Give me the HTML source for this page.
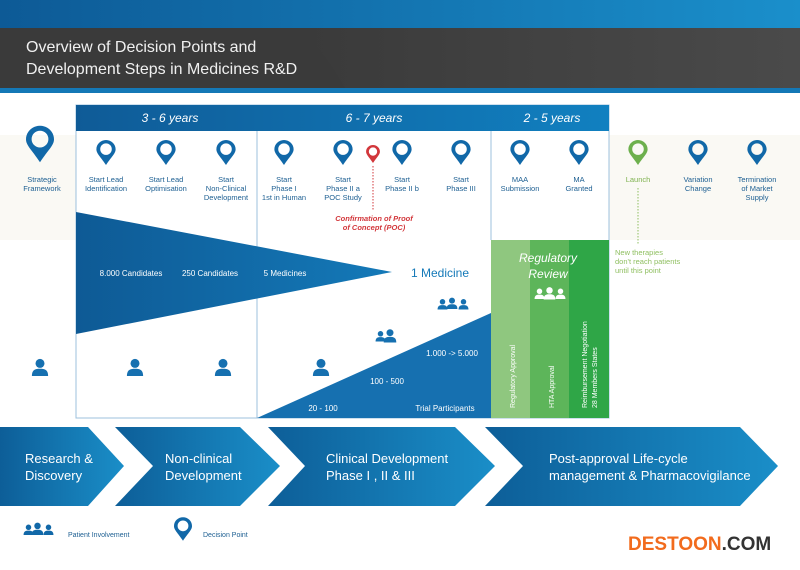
<!DOCTYPE html>
<html><head><meta charset="utf-8"><style>
body{margin:0;width:800px;height:565px;overflow:hidden;background:#fff;font-family:"Liberation Sans",sans-serif}
</style></head><body>
<svg width="800" height="565" viewBox="0 0 800 565" xmlns="http://www.w3.org/2000/svg" font-family="Liberation Sans, sans-serif">
<defs>
<linearGradient id="top" x1="0" x2="1"><stop offset="0" stop-color="#0d5a96"/><stop offset="1" stop-color="#1a8fcb"/></linearGradient>
<linearGradient id="bar" x1="0" x2="1"><stop offset="0" stop-color="#0f5b97"/><stop offset="1" stop-color="#1180c0"/></linearGradient>
<linearGradient id="chev" x1="0" x2="1"><stop offset="0" stop-color="#0d5e98"/><stop offset="1" stop-color="#1a8ec8"/></linearGradient>
<linearGradient id="fun" x1="0" x2="1"><stop offset="0" stop-color="#0e5a95"/><stop offset="1" stop-color="#1479b8"/></linearGradient>
<linearGradient id="dk" x1="0" x2="1"><stop offset="0" stop-color="#3a3a3a"/><stop offset="1" stop-color="#4a4a4a"/></linearGradient>
<symbol id="pin" viewBox="0 0 20 26"><path d="M10 0C4.5 0 0 4.3 0 9.6 0 14 4 17 10 26 16 17 20 14 20 9.6 20 4.3 15.5 0 10 0Z M10 3.5A6 6 0 1 1 10 15.5 6 6 0 1 1 10 3.5Z" fill-rule="evenodd"/></symbol>
<symbol id="person" viewBox="0 0 20 20"><circle cx="10" cy="6" r="5"/><path d="M1 20C1 13 5 12 10 12S19 13 19 20Z"/></symbol>
</defs>
<rect x="0" y="0" width="800" height="28" fill="url(#top)"/>
<rect x="0" y="28" width="800" height="60" fill="#3a3a3a"/>
<path d="M300 28 H800 V88 H345 Q330 60 300 28Z" fill="url(#dk)"/>
<rect x="0" y="88" width="800" height="5" fill="#1478b6"/>
<text x="26" y="52" font-size="16" fill="#f0f0f0">Overview of Decision Points and</text>
<text x="26" y="74" font-size="16" fill="#f0f0f0">Development Steps in Medicines R&amp;D</text>

<rect x="0" y="135" width="800" height="105" fill="#faf9f4"/>
<rect x="76" y="105" width="533" height="313" fill="#fff" stroke="#9cc0dd" stroke-width="1"/>
<rect x="76" y="105" width="533" height="26" fill="url(#bar)"/>
<g fill="#fff" font-size="12" font-style="italic" text-anchor="middle">
<text x="170" y="122">3 - 6 years</text><text x="374" y="122">6 - 7 years</text><text x="552" y="122">2 - 5 years</text></g>
<line x1="257" y1="131" x2="257" y2="418" stroke="#9cc0dd"/>
<line x1="491" y1="131" x2="491" y2="240" stroke="#9cc0dd"/>
<rect x="491" y="240" width="40" height="178" fill="#8fc77f"/>
<rect x="530" y="240" width="40" height="178" fill="#5db55a"/>
<rect x="569" y="240" width="40" height="178" fill="#2fa647"/>
<path d="M76 212 L392 272 L76 334Z" fill="url(#fun)"/>
<path d="M257 418 L491 313 L491 418Z" fill="#1670b0"/>
<g fill="#fff" font-size="8" text-anchor="middle">
<text x="131" y="276">8.000 Candidates</text><text x="210" y="276">250 Candidates</text><text x="285" y="276">5 Medicines</text>
<text x="323" y="411">20 - 100</text><text x="387" y="384">100 - 500</text><text x="452" y="356">1.000 -&gt; 5.000</text><text x="445" y="411">Trial Participants</text></g>
<text x="440" y="277" font-size="12" fill="#1479b8" text-anchor="middle">1 Medicine</text>
<g fill="#fff" font-size="12" font-style="italic" text-anchor="middle"><text x="548" y="262">Regulatory</text><text x="548" y="278">Review</text></g>
<g fill="#fff" font-size="7">
<text transform="translate(515,408) rotate(-90)">Regulatory Approval</text>
<text transform="translate(554,408) rotate(-90)">HTA Approval</text>
<text transform="translate(587,408) rotate(-90)">Reimbursement Negotiation</text>
<text transform="translate(597,408) rotate(-90)">28 Members States</text></g>
<g fill="#fff"><use href="#person" x="534" y="288" width="11" height="11"/><use href="#person" x="543" y="286" width="13" height="14"/><use href="#person" x="555" y="288" width="11" height="11"/></g>
<g fill="#1670b0">
<use href="#person" x="31" y="358" width="18" height="18"/><use href="#person" x="126" y="358" width="18" height="18"/><use href="#person" x="214" y="358" width="18" height="18"/><use href="#person" x="312" y="358" width="18" height="18"/>
<use href="#person" x="375" y="330" width="11" height="12"/><use href="#person" x="383" y="328" width="14" height="15"/>
<use href="#person" x="437" y="298" width="11" height="12"/><use href="#person" x="446" y="296" width="12" height="14"/><use href="#person" x="458" y="298" width="11" height="12"/>
</g>
<g fill="#1168a8">
<use href="#pin" x="26" y="124" width="28" height="40"/>
<use href="#pin" x="96" y="140" width="20" height="25"/><use href="#pin" x="156" y="140" width="20" height="25"/><use href="#pin" x="216" y="140" width="20" height="25"/>
<use href="#pin" x="274" y="140" width="20" height="25"/><use href="#pin" x="333" y="140" width="20" height="25"/><use href="#pin" x="392" y="140" width="20" height="25"/><use href="#pin" x="451" y="140" width="20" height="25"/>
<use href="#pin" x="510" y="140" width="20" height="25"/><use href="#pin" x="569" y="140" width="20" height="25"/>
<use href="#pin" x="688" y="140" width="20" height="25"/><use href="#pin" x="747" y="140" width="20" height="25"/>
</g>
<use href="#pin" x="628" y="140" width="20" height="25" fill="#6db04d"/>
<use href="#pin" x="366" y="145" width="14" height="18" fill="#d2373b"/>
<line x1="373" y1="166" x2="373" y2="210" stroke="#d2373b" stroke-dasharray="1.5,1.5"/>
<line x1="638" y1="188" x2="638" y2="244" stroke="#8fbf60" stroke-dasharray="1.5,1.5"/>
<g font-size="7.5" fill="#1d5f92" text-anchor="middle">
<text x="42" y="182">Strategic</text><text x="42" y="191">Framework</text>
<text x="106" y="182">Start Lead</text><text x="106" y="191">Identification</text>
<text x="166" y="182">Start Lead</text><text x="166" y="191">Optimisation</text>
<text x="226" y="182">Start</text><text x="226" y="191">Non-Clinical</text><text x="226" y="200">Development</text>
<text x="284" y="182">Start</text><text x="284" y="191">Phase I</text><text x="284" y="200">1st in Human</text>
<text x="343" y="182">Start</text><text x="343" y="191">Phase II a</text><text x="343" y="200">POC Study</text>
<text x="402" y="182">Start</text><text x="402" y="191">Phase II b</text>
<text x="461" y="182">Start</text><text x="461" y="191">Phase III</text>
<text x="520" y="182">MAA</text><text x="520" y="191">Submission</text>
<text x="579" y="182">MA</text><text x="579" y="191">Granted</text>
<text x="698" y="182">Variation</text><text x="698" y="191">Change</text>
<text x="757" y="182">Termination</text><text x="757" y="191">of Market</text><text x="757" y="200">Supply</text>
</g>
<text x="638" y="182" font-size="7.5" fill="#7fb24f" text-anchor="middle">Launch</text>
<g font-size="7.5" fill="#d2373b" font-style="italic" font-weight="bold" text-anchor="middle"><text x="374" y="221">Confirmation of Proof</text><text x="374" y="230">of Concept (POC)</text></g>
<g font-size="7.5" fill="#8fbf60"><text x="615" y="255">New therapies</text><text x="615" y="264">don't reach patients</text><text x="615" y="273">until this point</text></g>

<g fill="url(#chev)">
<path d="M0 427 H88 L124 466 L88 506 H0Z"/>
<path d="M115 427 H240 L280 466 L240 506 H115 L153 466Z"/>
<path d="M268 427 H455 L495 466 L455 506 H268 L305 466Z"/>
<path d="M485 427 H740 L778 466 L740 506 H485 L523 466Z"/>
</g>
<g fill="#fff" font-size="13">
<text x="25" y="463">Research &amp;</text><text x="25" y="480">Discovery</text>
<text x="165" y="463">Non-clinical</text><text x="165" y="480">Development</text>
<text x="326" y="463">Clinical Development</text><text x="326" y="480">Phase I , II &amp; III</text>
<text x="549" y="463">Post-approval Life-cycle</text><text x="549" y="480">management &amp; Pharmacovigilance</text>
</g>
<g fill="#1168a8"><use href="#person" x="23" y="523" width="11" height="13"/><use href="#person" x="31" y="521" width="13" height="15"/><use href="#person" x="43" y="523" width="11" height="13"/>
<use href="#pin" x="174" y="517" width="18" height="24"/></g>
<text x="68" y="537" font-size="7" fill="#1d5f92">Patient Involvement</text>
<text x="203" y="537" font-size="7" fill="#1d5f92">Decision Point</text>
<text x="628" y="550" font-size="19" font-weight="bold" fill="#f26b1d">DESTOON<tspan fill="#333">.COM</tspan></text>
</svg>
</body></html>
